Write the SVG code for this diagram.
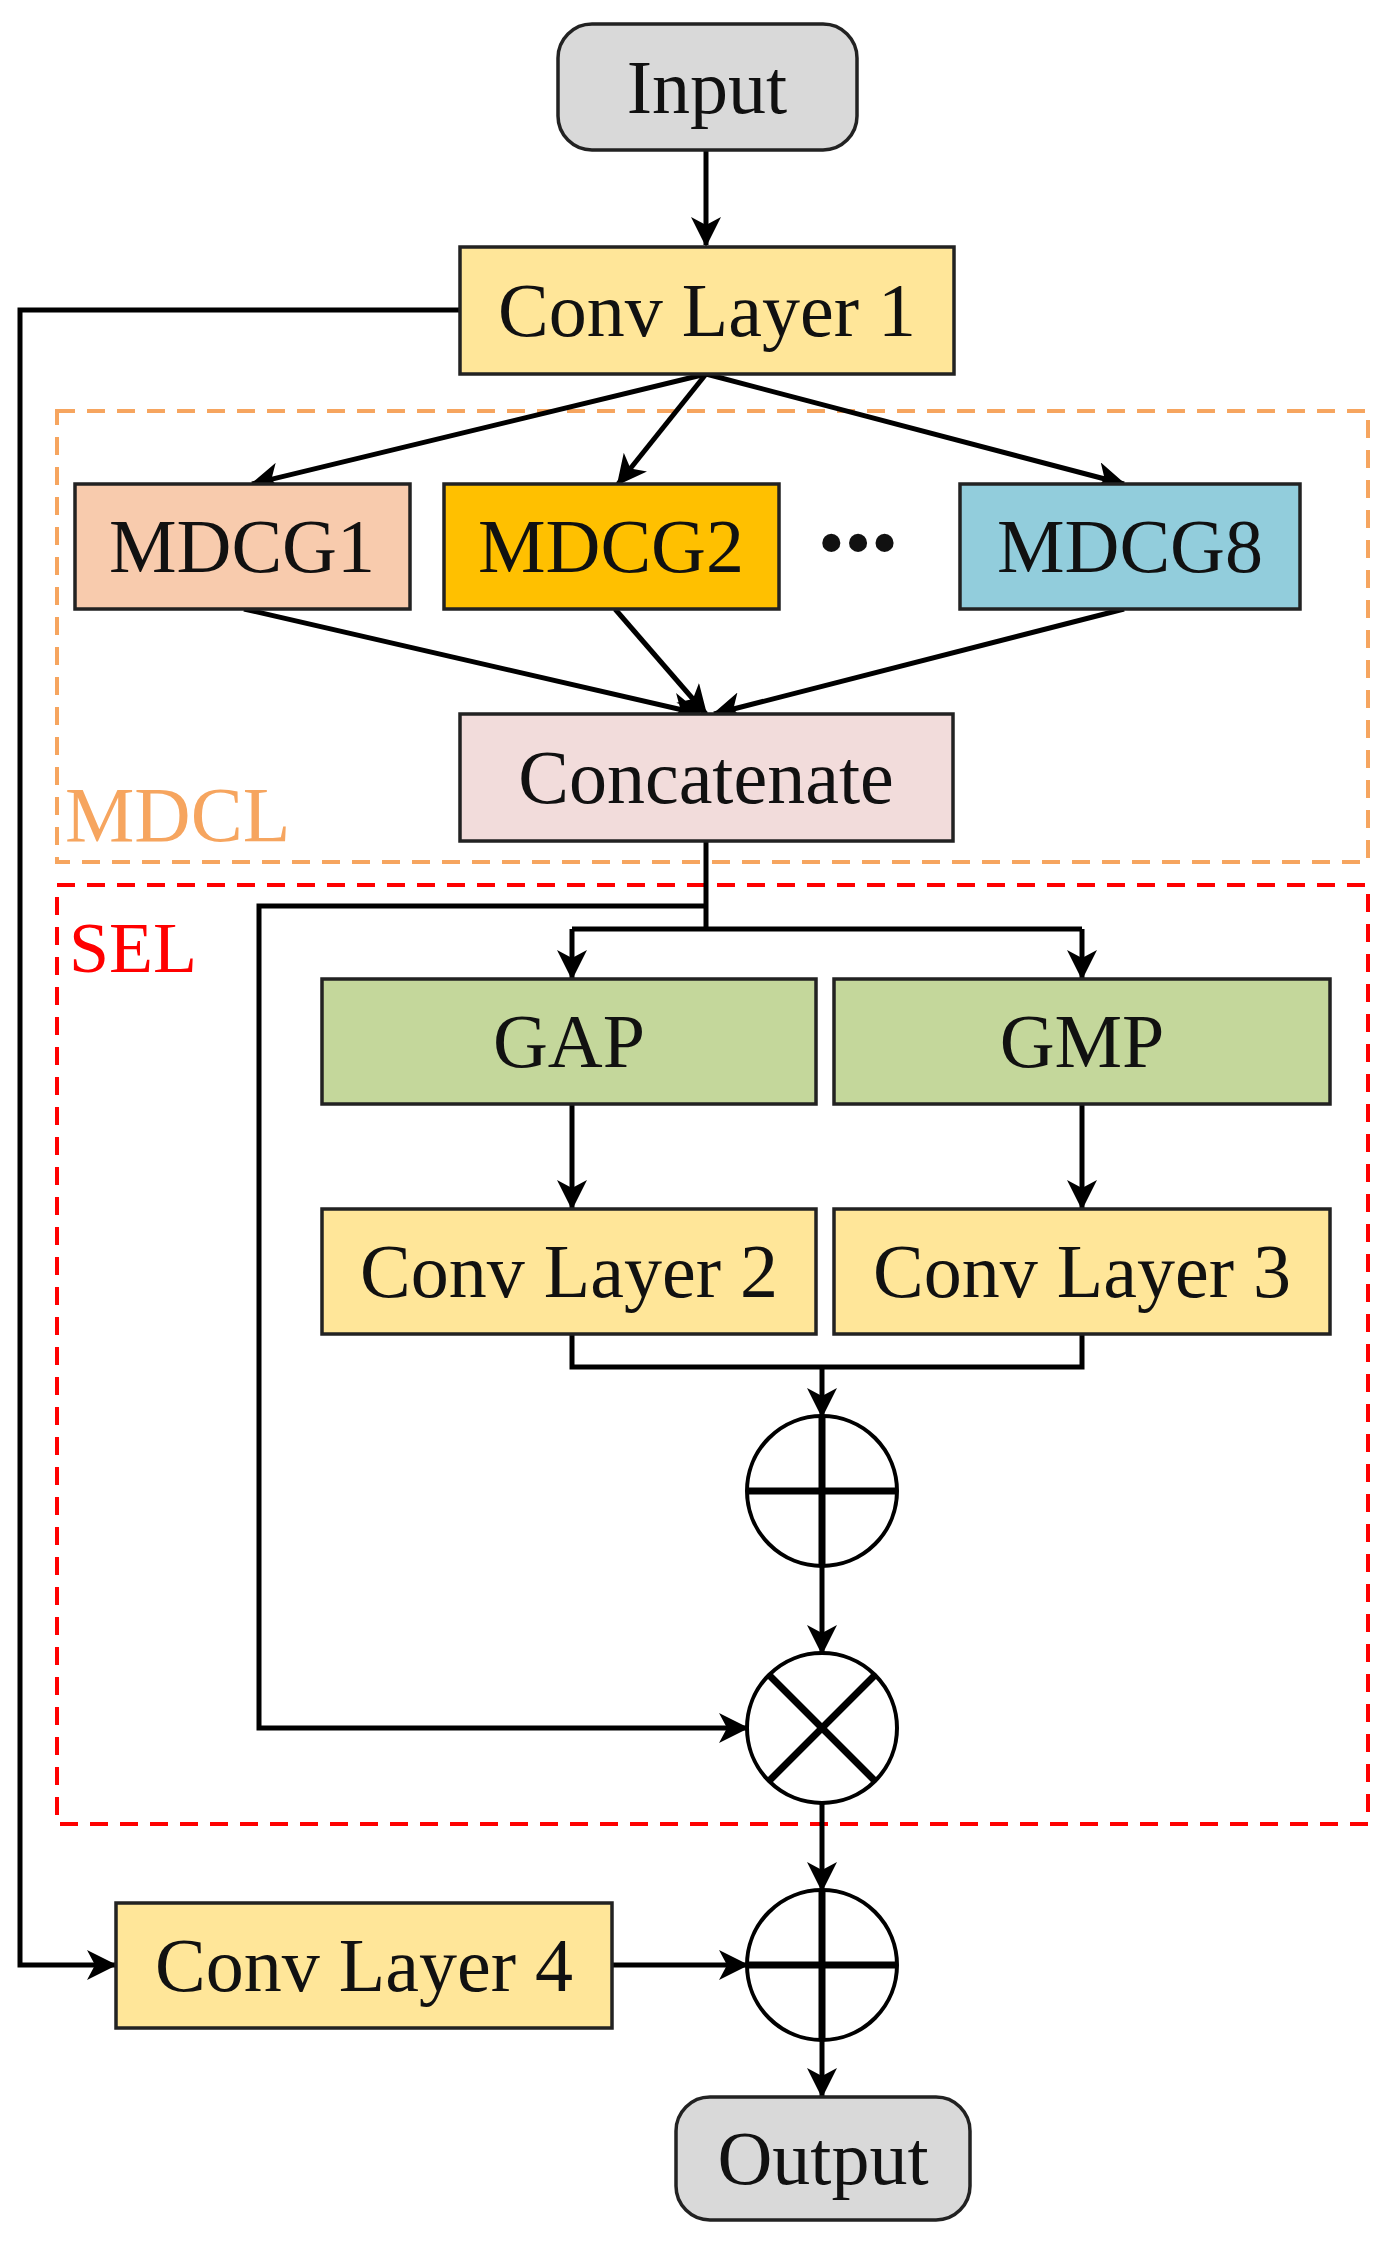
<svg xmlns="http://www.w3.org/2000/svg" width="1390" height="2249" viewBox="0 0 1390 2249">
<style>
.b{stroke:#222;stroke-width:3.5}
.t{font-family:"Liberation Serif",serif;font-size:76px;fill:#111;text-anchor:middle;dominant-baseline:central}
.c{fill:none;stroke:#000;stroke-width:5}
.op{fill:#fff;stroke:#000;stroke-width:4}
.opl{stroke:#000;stroke-width:7}
</style>
<defs>
<marker id="a" viewBox="0 0 30 30" refX="28" refY="15" markerWidth="30" markerHeight="30" markerUnits="userSpaceOnUse" orient="auto">
<path d="M0,0 L30,15 L0,30 L8,15 z" fill="#000"/>
</marker>
</defs>
<rect x="57" y="411" width="1311" height="451" fill="none" stroke="#f6a55f" stroke-width="4" stroke-dasharray="18,12"/>
<text x="65" y="841" font-family="Liberation Serif,serif" font-size="78" fill="#f6a55f">MDCL</text>
<rect x="57" y="885" width="1311" height="939" fill="none" stroke="#ff0000" stroke-width="4" stroke-dasharray="18,12"/>
<text x="69" y="972" font-family="Liberation Serif,serif" font-size="72" fill="#ff0000">SEL</text>

<g id="connectors" class="c">
<path d="M706,150 V245" marker-end="url(#a)"/>
<path d="M706,374 L252,484" marker-end="url(#a)"/>
<path d="M706,374 L618,484" marker-end="url(#a)"/>
<path d="M706,374 L1124,484" marker-end="url(#a)"/>
<path d="M244,609 L700,714" marker-end="url(#a)"/>
<path d="M615,609 L706,714" marker-end="url(#a)"/>
<path d="M1124,609 L714,714" marker-end="url(#a)"/>
<path d="M706,841 V929"/>
<path d="M572,929 H1082"/>
<path d="M572,929 V978" marker-end="url(#a)"/>
<path d="M1082,929 V978" marker-end="url(#a)"/>
<path d="M706,906 H259 V1728 H747" marker-end="url(#a)"/>
<path d="M572,1104 V1208" marker-end="url(#a)"/>
<path d="M1082,1104 V1208" marker-end="url(#a)"/>
<path d="M572,1334 V1367 H1082 V1334"/>
<path d="M822,1367 V1416" marker-end="url(#a)"/>
<path d="M822,1566 V1653" marker-end="url(#a)"/>
<path d="M822,1803 V1890" marker-end="url(#a)"/>
<path d="M460,310 H20 V1965 H115" marker-end="url(#a)"/>
<path d="M612,1965 H747" marker-end="url(#a)"/>
<path d="M822,2040 V2096" marker-end="url(#a)"/>
</g>

<g id="input"><rect x="558" y="24" width="299" height="126" rx="34" fill="#d9d9d9" class="b"/><text class="t" x="707" y="87">Input</text></g>
<g id="conv1"><rect x="460" y="247" width="494" height="127" fill="#ffe699" class="b"/><text class="t" x="707" y="310">Conv Layer 1</text></g>
<g id="mdcg1"><rect x="75" y="484" width="335" height="125" fill="#f8cbad" class="b"/><text class="t" x="242" y="546">MDCG1</text></g>
<g id="mdcg2"><rect x="444" y="484" width="335" height="125" fill="#ffc000" class="b"/><text class="t" x="611" y="546">MDCG2</text></g>
<g id="dots"><text class="t" x="858" y="542">•••</text></g>
<g id="mdcg8"><rect x="960" y="484" width="340" height="125" fill="#92cddc" class="b"/><text class="t" x="1130" y="546">MDCG8</text></g>
<g id="concat"><rect x="460" y="714" width="493" height="127" fill="#f2dcdb" class="b"/><text class="t" x="706" y="777">Concatenate</text></g>
<g id="gap"><rect x="322" y="979" width="494" height="125" fill="#c4d79b" class="b"/><text class="t" x="569" y="1041">GAP</text></g>
<g id="gmp"><rect x="834" y="979" width="496" height="125" fill="#c4d79b" class="b"/><text class="t" x="1082" y="1041">GMP</text></g>
<g id="conv2"><rect x="322" y="1209" width="494" height="125" fill="#ffe699" class="b"/><text class="t" x="569" y="1271">Conv Layer 2</text></g>
<g id="conv3"><rect x="834" y="1209" width="496" height="125" fill="#ffe699" class="b"/><text class="t" x="1082" y="1271">Conv Layer 3</text></g>
<g id="add1"><circle cx="822" cy="1491" r="75" class="op"/><path class="opl" d="M747,1491 H897 M822,1416 V1566"/></g>
<g id="mul"><circle cx="822" cy="1728" r="75" class="op"/><path class="opl" d="M769,1675 L875,1781 M875,1675 L769,1781"/></g>
<g id="add2"><circle cx="822" cy="1965" r="75" class="op"/><path class="opl" d="M747,1965 H897 M822,1890 V2040"/></g>
<g id="conv4"><rect x="116" y="1903" width="496" height="125" fill="#ffe699" class="b"/><text class="t" x="364" y="1965">Conv Layer 4</text></g>
<g id="output"><rect x="676" y="2097" width="294" height="123" rx="34" fill="#d9d9d9" class="b"/><text class="t" x="823" y="2158">Output</text></g>
</svg>
